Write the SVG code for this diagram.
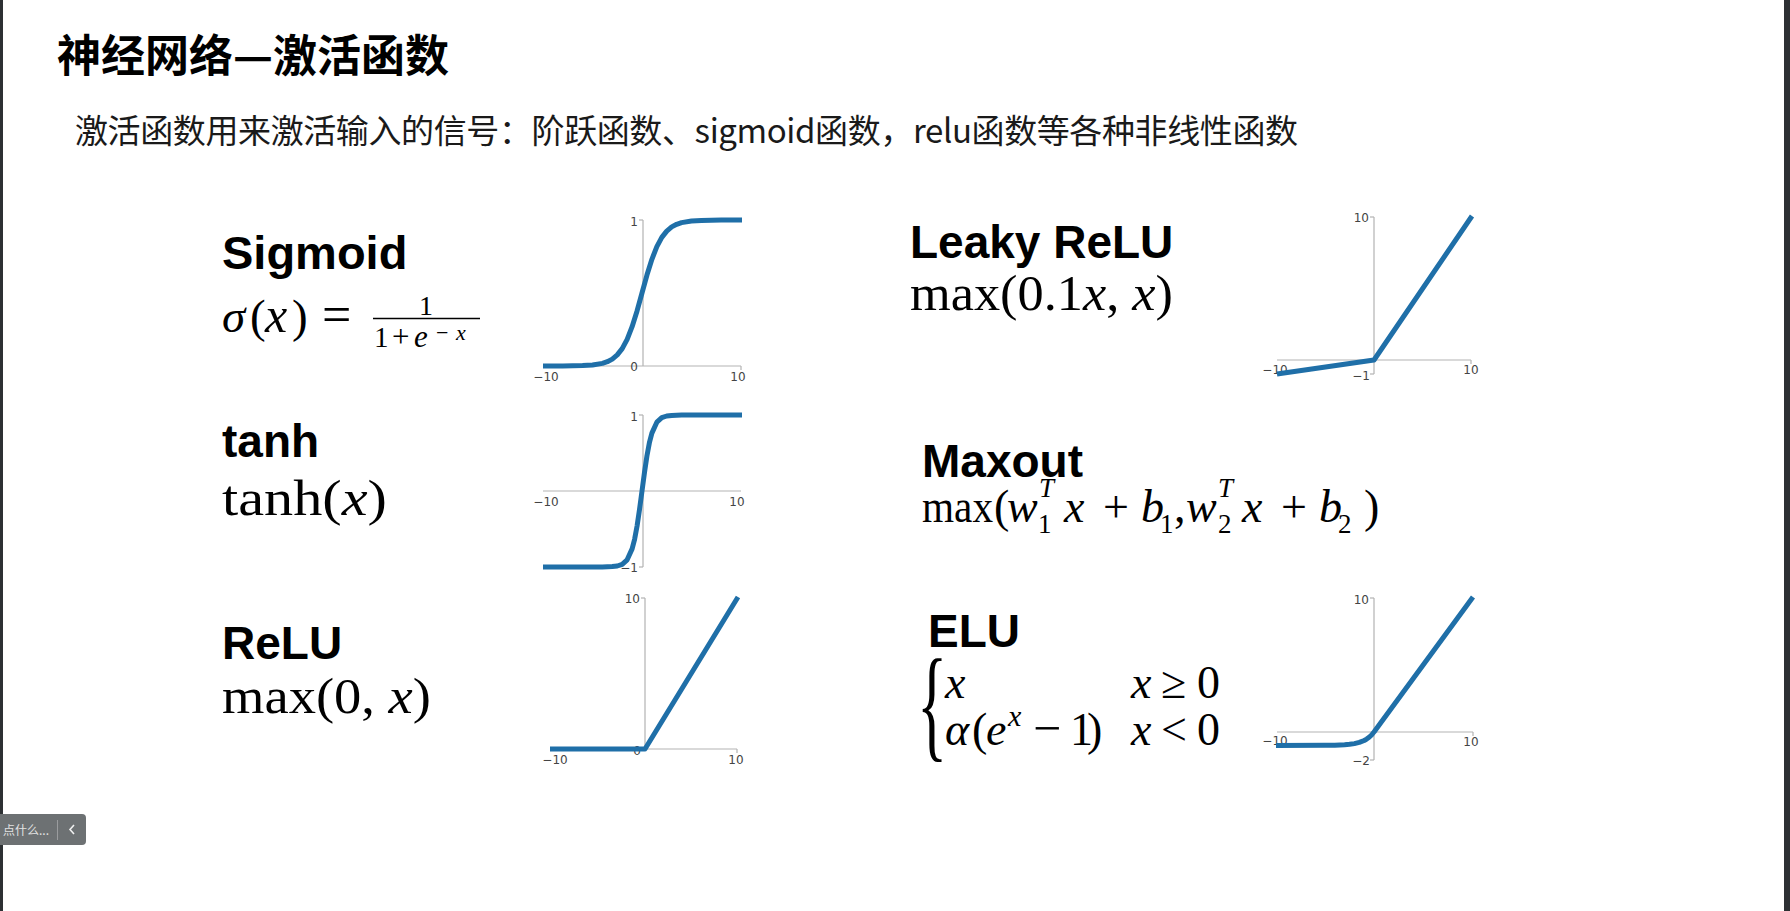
<svg xmlns="http://www.w3.org/2000/svg" width="1790" height="911" viewBox="0 0 1790 911">
<style>
.cjk{font-family:"Noto Sans CJK SC","Noto Sans",sans-serif;}
.lbl{font-family:"Liberation Sans",Arial,sans-serif;font-weight:bold;fill:#000;}
.m{font-family:"Liberation Serif","Times New Roman",serif;fill:#000;}
.i{font-style:italic;}
.tk{font-family:"DejaVu Sans",sans-serif;font-size:12px;fill:#444;}
.ax{stroke:#b3b3b3;stroke-width:1.2;fill:none;}
.cv{stroke:#1f6fa8;stroke-width:5;fill:none;stroke-linejoin:round;stroke-linecap:butt;}
</style>
<rect x="0" y="0" width="1790" height="911" fill="#ffffff"/>
<rect x="0" y="0" width="3" height="911" fill="#2d3033"/>
<rect x="1784" y="0" width="6" height="911" fill="#2d3033"/>

<g id="header">
<text class="cjk" x="57" y="72" font-size="44" font-weight="bold" fill="#000">神经网络—激活函数</text>
<text class="cjk" x="75" y="143" font-size="33" fill="#1a1a1a" textLength="1223" lengthAdjust="spacing">激活函数用来激活输入的信号：阶跃函数、sigmoid函数，relu函数等各种非线性函数</text>
</g>

<g id="sigmoid">
<text class="lbl" x="222" y="269" font-size="47">Sigmoid</text>
<text class="m" y="332" font-size="47"><tspan x="222" class="i">σ</tspan><tspan x="250">(</tspan><tspan x="265" class="i" font-size="50">x</tspan><tspan x="292">)</tspan><tspan x="322" font-size="52">=</tspan></text>
<text class="m" x="426" y="315" font-size="28" text-anchor="middle">1</text>
<line x1="373" y1="318.5" x2="480" y2="318.5" stroke="#000" stroke-width="1.6"/>
<text class="m" y="347" font-size="29"><tspan x="374">1</tspan><tspan x="392" font-size="31">+</tspan><tspan x="414" class="i" font-size="31">e</tspan></text>
<text class="m" y="340" font-size="22"><tspan x="436">−</tspan><tspan x="456" class="i">x</tspan></text>
<g id="sigmoid-plot">
<line class="ax" x1="643" y1="220" x2="643" y2="366"/>
<line class="ax" x1="543" y1="366" x2="741" y2="366"/>
<line class="ax" x1="639" y1="220" x2="643" y2="220"/>
<line class="ax" x1="741" y1="366" x2="741" y2="370"/>
<text class="tk" x="638" y="226" text-anchor="end">1</text>
<text class="tk" x="638" y="371" text-anchor="end">0</text>
<text class="tk" x="546" y="381" text-anchor="middle">−10</text>
<text class="tk" x="738" y="381" text-anchor="middle">10</text>
<polyline class="cv" points="543,366 562.8,366 582.6,365.6 592.5,365 602.4,363.4 607.35,361.7 612.3,359.1 617.25,354.9 622.2,348.6 627.15,339.4 632.1,326.7 637.05,310.9 642,293 646.95,275.1 651.9,259.3 656.85,246.6 661.8,237.4 666.75,231.1 671.7,226.9 676.65,224.3 681.6,222.6 691.5,221 701.4,220.4 721.2,220 742,220"/>
</g>
</g>

<g id="tanh">
<text class="lbl" x="222" y="457" font-size="46">tanh</text>
<text class="m" x="222" y="515" font-size="50" textLength="165" lengthAdjust="spacingAndGlyphs">tanh(<tspan class="i">x</tspan>)</text>
<g id="tanh-plot">
<line class="ax" x1="643" y1="415" x2="643" y2="567"/>
<line class="ax" x1="543" y1="491" x2="741" y2="491"/>
<line class="ax" x1="639" y1="415" x2="643" y2="415"/>
<line class="ax" x1="639" y1="567" x2="643" y2="567"/>
<text class="tk" x="638" y="421" text-anchor="end">1</text>
<text class="tk" x="638" y="572" text-anchor="end">−1</text>
<text class="tk" x="546" y="506" text-anchor="middle">−10</text>
<text class="tk" x="737" y="506" text-anchor="middle">10</text>
<polyline class="cv" points="543,567 602.4,566.95 612.3,566.6 617.25,566 622.2,564.3 627.15,559.8 632.1,548.9 634.6,539.3 637.05,526.1 639.5,509.6 642,491 644.5,472.4 646.95,455.9 649.4,442.7 651.9,433.1 656.85,422.2 661.8,417.7 666.75,416 671.7,415.4 681.6,415.05 742,415"/>
</g>
</g>

<g id="relu">
<text class="lbl" x="222" y="659" font-size="46">ReLU</text>
<text class="m" x="222" y="713" font-size="50" textLength="209" lengthAdjust="spacingAndGlyphs">max(0, <tspan class="i">x</tspan>)</text>
<g id="relu-plot">
<line class="ax" x1="645" y1="598" x2="645" y2="749"/>
<line class="ax" x1="550" y1="749" x2="737" y2="749"/>
<line class="ax" x1="641" y1="598" x2="645" y2="598"/>
<line class="ax" x1="737" y1="749" x2="737" y2="753"/>
<text class="tk" x="640" y="603" text-anchor="end">10</text>
<text class="tk" x="641" y="755" text-anchor="end">0</text>
<text class="tk" x="555" y="764" text-anchor="middle">−10</text>
<text class="tk" x="736" y="764" text-anchor="middle">10</text>
<polyline class="cv" points="550,749 645,749 738,597"/>
</g>
</g>

<g id="leaky-relu">
<text class="lbl" x="910" y="258" font-size="46">Leaky ReLU</text>
<text class="m" x="910" y="310" font-size="50" textLength="263" lengthAdjust="spacingAndGlyphs">max(0.1<tspan class="i">x</tspan>, <tspan class="i">x</tspan>)</text>
<g id="leaky-plot">
<line class="ax" x1="1374" y1="217" x2="1374" y2="374"/>
<line class="ax" x1="1277" y1="360" x2="1471" y2="360"/>
<line class="ax" x1="1370" y1="217" x2="1374" y2="217"/>
<line class="ax" x1="1370" y1="374" x2="1374" y2="374"/>
<line class="ax" x1="1471" y1="360" x2="1471" y2="364"/>
<text class="tk" x="1369" y="222" text-anchor="end">10</text>
<text class="tk" x="1275" y="374" text-anchor="middle">−10</text>
<text class="tk" x="1370" y="380" text-anchor="end">−1</text>
<text class="tk" x="1471" y="374" text-anchor="middle">10</text>
<polyline class="cv" points="1277,374 1374,360 1472,216"/>
</g>
</g>

<g id="maxout">
<text class="lbl" x="922" y="477" font-size="46">Maxout</text>
<text class="m" x="922" y="522" font-size="46" textLength="71" lengthAdjust="spacingAndGlyphs">max</text>
<text class="m" y="522" font-size="46"><tspan x="994">(</tspan><tspan x="1007" class="i">w</tspan><tspan x="1064" class="i">x</tspan><tspan x="1103">+</tspan><tspan x="1141" class="i">b</tspan><tspan x="1174">,</tspan><tspan x="1186" class="i">w</tspan><tspan x="1242" class="i">x</tspan><tspan x="1281">+</tspan><tspan x="1319" class="i">b</tspan><tspan x="1364">)</tspan></text>
<text class="m i" y="497" font-size="27"><tspan x="1039">T</tspan><tspan x="1218">T</tspan></text>
<text class="m" y="533" font-size="27"><tspan x="1038">1</tspan><tspan x="1160">1</tspan><tspan x="1218">2</tspan><tspan x="1338">2</tspan></text>
</g>

<g id="elu">
<text class="lbl" x="928" y="647" font-size="46">ELU</text>
<text class="m" transform="translate(917,745) scale(0.5,1)" font-size="126">{</text>
<text class="m" y="698" font-size="46"><tspan x="945" class="i">x</tspan><tspan x="1131" class="i">x</tspan><tspan x="1161">≥</tspan><tspan x="1197">0</tspan></text>
<text class="m" y="745" font-size="46"><tspan x="945" class="i">α</tspan><tspan x="972">(</tspan><tspan x="986" class="i">e</tspan><tspan x="1033" font-size="50">−</tspan><tspan x="1070">1</tspan><tspan x="1087">)</tspan><tspan x="1131" class="i">x</tspan><tspan x="1161">&lt;</tspan><tspan x="1197">0</tspan></text>
<text class="m i" x="1008" y="726" font-size="30">x</text>
<g id="elu-plot">
<line class="ax" x1="1374" y1="598" x2="1374" y2="760"/>
<line class="ax" x1="1277" y1="732" x2="1473" y2="732"/>
<line class="ax" x1="1370" y1="598" x2="1374" y2="598"/>
<line class="ax" x1="1370" y1="760" x2="1374" y2="760"/>
<line class="ax" x1="1473" y1="732" x2="1473" y2="736"/>
<text class="tk" x="1369" y="604" text-anchor="end">10</text>
<text class="tk" x="1275" y="745" text-anchor="middle">−10</text>
<text class="tk" x="1370" y="765" text-anchor="end">−2</text>
<text class="tk" x="1471" y="746" text-anchor="middle">10</text>
<polyline class="cv" points="1276,745.4 1325,745.3 1334.8,745.2 1344.6,744.7 1349.5,744.3 1354.4,743.6 1359.3,742.4 1364.2,740.5 1366.65,739.1 1369.1,737.3 1371.55,735 1374,732 1473,597"/>
</g>
</g>

<g id="comment-widget">
<rect x="-6" y="814" width="92" height="31" rx="4" fill="#6d7173"/>
<text class="cjk" x="3" y="835" font-size="12" fill="#e2e2e2">点什么...</text>
<line x1="57.5" y1="820" x2="57.5" y2="840" stroke="#9a9c9e" stroke-width="1"/>
<polyline points="74,825 70,829.5 74,834" fill="none" stroke="#f0f0f0" stroke-width="1.6"/>
</g>
</svg>
